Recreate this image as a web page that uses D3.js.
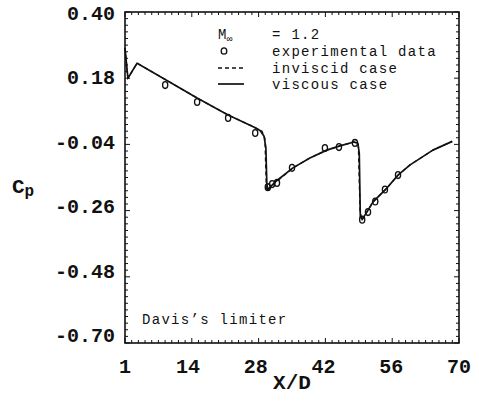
<!DOCTYPE html>
<html><head><meta charset="utf-8">
<script src="https://cdn.jsdelivr.net/npm/d3@7"></script>
<style>
body{margin:0;background:#fff;}
svg{display:block;}
text{fill:#111;}
</style></head>
<body>
<svg id="chart" width="479" height="403"></svg>
<script>
// ---- data ----
const yTicks = [0.40, 0.18, -0.04, -0.26, -0.48, -0.70];
const yTickLabels = ["0.40", "0.18", "-0.04", "-0.26", "-0.48", "-0.70"];
const xTicks = [1, 14, 28, 42, 56, 70];
const xTickLabels = ["1", "14", "28", "42", "56", "70"];

const viscousX = [1, 1.6, 3.5, 9.3, 15.9, 22.3, 27.6, 28.9, 29.7, 30.1, 30.3, 30.5, 32.0, 35.7, 39.2, 42.7, 45.4, 48.3, 49.1, 49.4, 49.6, 50.0, 52.2, 55.1, 57.4, 59.9, 64.6, 68.6];
const viscousCp = [0.28, 0.18, 0.23, 0.176, 0.114, 0.058, 0.018, 0.006, -0.012, -0.05, -0.17, -0.19, -0.165, -0.118, -0.085, -0.059, -0.045, -0.032, -0.036, -0.07, -0.27, -0.29, -0.232, -0.185, -0.142, -0.108, -0.059, -0.030];

const inviscidX = [1, 1.6, 3.5, 9.3, 15.9, 22.3, 27.6, 29.3, 29.9, 30.2, 30.5, 32.0, 35.7, 39.2, 42.7, 45.4, 48.3, 49.2, 49.6, 50.2, 52.4, 55.3, 57.4, 59.9, 64.6, 68.6];
const inviscidCp = [0.28, 0.18, 0.23, 0.176, 0.114, 0.058, 0.018, 0.004, -0.02, -0.19, -0.195, -0.168, -0.118, -0.085, -0.059, -0.045, -0.032, -0.040, -0.29, -0.285, -0.228, -0.182, -0.142, -0.108, -0.059, -0.030];

const expX = [9.3, 15.9, 22.3, 27.9, 30.5, 31.4, 32.4, 35.5, 42.3, 45.2, 48.5, 50.0, 51.2, 52.7, 54.7, 57.4];
const expCp = [0.157, 0.101, 0.048, -0.002, -0.182, -0.172, -0.168, -0.118, -0.052, -0.049, -0.035, -0.29, -0.265, -0.23, -0.19, -0.142];

const legendLabels = ["= 1.2", "experimental data", "inviscid case", "viscous case"];
const noteText = "Davis\u2019s limiter";

// ---- layout ----
const L = 125, R = 459, T = 12, B = 343;
const svg = d3.select("#chart");
const x = d3.scaleLinear().domain([1, 70]).range([L, R]);
const y = d3.scaleLinear().domain([-0.70, 0.40]).range([B, T]);
const yLab = d3.scaleLinear().domain([-0.70, 0.40]).range([342, 20]); // label baselines
const ink = "#111";
const mono = "'Liberation Mono','DejaVu Sans Mono',monospace";

// frame
svg.append("rect").attr("x", L).attr("y", T).attr("width", R - L).attr("height", B - T)
  .attr("fill", "none").attr("stroke", ink).attr("stroke-width", 1.6);

// minor ticks (inward) on all sides
const xMinor = d3.range(0, 51).map(i => 1 + i * 69 / 50);
const yMinor = d3.range(0, 51).map(i => -0.70 + i * 1.1 / 50);
const tg = svg.append("g").attr("stroke", ink).attr("stroke-width", 1);
xMinor.forEach((v, i) => {
  const len = (i % 10 === 0) ? 5 : 3;
  tg.append("line").attr("x1", x(v)).attr("x2", x(v)).attr("y1", B).attr("y2", B - len);
  tg.append("line").attr("x1", x(v)).attr("x2", x(v)).attr("y1", T).attr("y2", T + len);
});
yMinor.forEach((v, i) => {
  const len = (i % 10 === 0) ? 5 : 3;
  tg.append("line").attr("x1", L).attr("x2", L + len).attr("y1", y(v)).attr("y2", y(v));
  tg.append("line").attr("x1", R).attr("x2", R - len).attr("y1", y(v)).attr("y2", y(v));
});

// axes labels
svg.append("g").selectAll("text").data(yTicks).join("text")
  .attr("x", 115).attr("y", d => yLab(d))
  .attr("text-anchor", "end").attr("font-family", mono).attr("font-weight", "bold")
  .attr("font-size", 20).text((d, i) => yTickLabels[i]);
svg.append("g").selectAll("text").data(xTicks).join("text")
  .attr("x", d => x(d)).attr("y", 373)
  .attr("text-anchor", "middle").attr("font-family", mono).attr("font-weight", "bold")
  .attr("font-size", 20).text((d, i) => xTickLabels[i]);
svg.append("text").attr("x", 292).attr("y", 389).attr("text-anchor", "middle")
  .attr("font-family", mono).attr("font-weight", "bold").attr("font-size", 21).text("X/D");
const cp = svg.append("text").attr("x", 12).attr("y", 193).attr("font-family", mono).attr("font-weight", "bold");
cp.append("tspan").attr("font-size", 21).text("C");
cp.append("tspan").attr("font-size", 16).attr("dy", 3).text("p");

// lines
const line = d3.line().x(d => x(d[0])).y(d => y(d[1]));
const visc = viscousX.map((v, i) => [v, viscousCp[i]]);
const invisc = inviscidX.map((v, i) => [v, inviscidCp[i]]);
svg.append("path").attr("d", line(invisc)).attr("fill", "none").attr("stroke", ink)
  .attr("stroke-width", 1.3).attr("stroke-dasharray", "4,3");
svg.append("path").attr("d", line(visc)).attr("fill", "none").attr("stroke", ink)
  .attr("stroke-width", 1.7).attr("stroke-linejoin", "round");

// experimental points
svg.append("g").selectAll("ellipse").data(expX).join("ellipse")
  .attr("cx", d => x(d)).attr("cy", (d, i) => y(expCp[i]))
  .attr("rx", 2.6).attr("ry", 3.4).attr("fill", "none").attr("stroke", ink).attr("stroke-width", 1.3);

// legend
const lg = svg.append("g").attr("font-family", mono).attr("font-size", 14).attr("letter-spacing", 1.3);
const lx = 272, ly = [39, 56, 73, 89];
lg.selectAll("text.l").data(legendLabels).join("text").attr("class", "l")
  .attr("x", lx).attr("y", (d, i) => ly[i]).text(d => d);
const mt = lg.append("text").attr("x", 218).attr("y", ly[0]).attr("font-size", 14).attr("letter-spacing", 0);
mt.append("tspan").text("M");
mt.append("tspan").attr("font-size", 10).attr("dy", 3).text("\u221E");
lg.append("ellipse").attr("cx", 224).attr("cy", ly[1] - 5).attr("rx", 2.8).attr("ry", 3.2)
  .attr("fill", "none").attr("stroke", ink).attr("stroke-width", 1.3);
lg.append("line").attr("x1", 218).attr("x2", 244).attr("y1", ly[2] - 5).attr("y2", ly[2] - 5)
  .attr("stroke", ink).attr("stroke-width", 1.3).attr("stroke-dasharray", "4,3");
lg.append("line").attr("x1", 218).attr("x2", 244).attr("y1", ly[3] - 5).attr("y2", ly[3] - 5)
  .attr("stroke", ink).attr("stroke-width", 1.7);

// note
svg.append("text").attr("x", 142).attr("y", 324).attr("font-family", mono).attr("font-size", 14)
  .attr("letter-spacing", 1.3).text(noteText);
</script>
</body></html>
